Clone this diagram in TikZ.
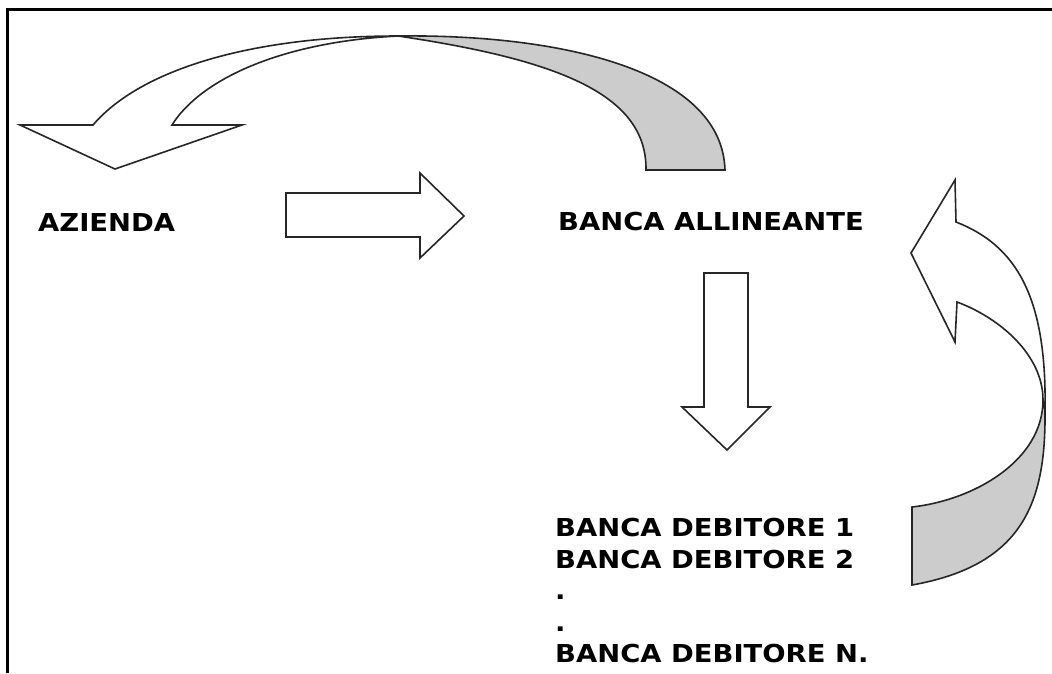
\documentclass[tikz,border=0pt]{standalone}
\usepackage{fontspec}
\newfontfamily\lblfont{DejaVu Sans}[FakeStretch=1.11]
\begin{document}
\begin{tikzpicture}[x=1pt,y=-1pt,
  blockarrow/.style={draw=black!85, line width=1.6pt, line join=miter, fill=white},
  twistside/.style={draw=black!85, line width=1.6pt, line join=miter, fill=black!20},
  lbl/.style={font=\lblfont\bfseries\fontsize{24.7}{31.5}\selectfont, inner sep=0pt, text=black}]
\useasboundingbox (0,0) rectangle (1052,673);
\fill[white] (0,0) rectangle (1052,673);

% labels
\node[lbl, anchor=base west] (azienda) at (38,231) {AZIENDA};
\node[lbl, anchor=base west] (allineante) at (558,230) {BANCA ALLINEANTE};
\node[lbl, anchor=north west, align=left] (debitori) at (555,518)
  {BANCA DEBITORE 1\\BANCA DEBITORE 2\\.\\.\\BANCA DEBITORE N.};

% straight block arrows
\draw[blockarrow] (286,193) -- (420,193) -- (420,173) -- (464,216) -- (420,258) -- (420,237) -- (286,237) -- cycle;
\draw[blockarrow] (704,273) -- (748,273) -- (748,407) -- (770,407) -- (727,450) -- (682,407) -- (704,407) -- cycle;

% top curved arrow (pointing down-left)
\coordinate (topx) at (398,36);
\draw[twistside] (topx) .. controls (560,34) and (722,70) .. (725,170)
  -- (646,170) .. controls (647,95) and (560,60) .. (topx) -- cycle;
\draw[blockarrow] (topx) .. controls (250,36) and (140,70) .. (93,125)
  -- (20,125) -- (115,169) -- (242,125) -- (172,125)
  .. controls (200,80) and (280,42) .. (topx) -- cycle;

% right curved arrow (pointing up-left)
\coordinate (rinner) at (1043,400);
\coordinate (router) at (1045,410);
\draw[twistside] (rinner) .. controls (1043,460) and (975,500) .. (912,507)
  -- (912,585) .. controls (1025,565) and (1046,500) .. (router) -- cycle;
\draw[blockarrow] (957,302) .. controls (1000,318) and (1043,355) .. (rinner)
  -- (router) .. controls (1047,295) and (1015,245) .. (956,222)
  -- (955,180) -- (911,253) -- (955,342) -- cycle;

% frame
\draw[line width=3pt] (7.5,673) -- (7.5,9.5) -- (1052,9.5);
\end{tikzpicture}
\end{document}
